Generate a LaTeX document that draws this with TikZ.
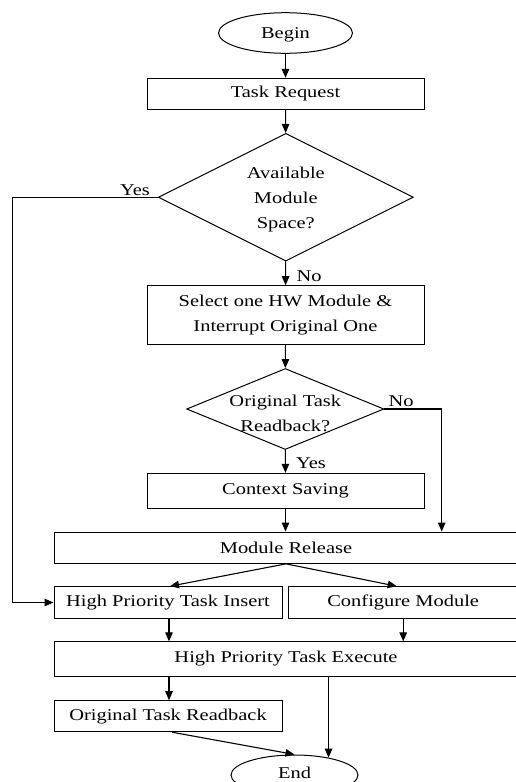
\documentclass[tikz,border=0pt]{standalone}
\usepackage{fontspec}
\setmainfont[FakeStretch=1.24]{Liberation Serif}
\usetikzlibrary{shapes.geometric,arrows.meta}
\begin{document}
\begin{tikzpicture}[x=1pt,y=-1pt,
  font=\fontsize{16.5}{25}\selectfont,
  box/.style={draw, line width=1pt, inner sep=0pt, align=center},
  dia/.style={draw, diamond, line width=1pt, inner sep=0pt},
  oval/.style={draw, ellipse, line width=1pt, inner sep=0pt},
  lbl/.style={inner sep=0pt, align=center},
  arr/.style={line width=1.1pt, -{Triangle[length=9pt,width=7.5pt]}}]
\useasboundingbox (0,0) rectangle (516,782);
% nodes
\node[oval, minimum width=134pt, minimum height=40.6pt] (start) at (285.5,33) {};
\node[lbl] (startt) at (285.5,34.5) {Begin};
\node[box, minimum width=277pt, minimum height=31pt] (req) at (285.5,93.8) {Task Request};
\node[dia, minimum width=255pt, minimum height=127.7pt] (d1) at (285.8,197.2) {};
\node[lbl] (d1t) at (285.8,199.5) {Available\\Module\\Space?};
\node[box, minimum width=277pt, minimum height=58.6pt] (sel) at (285.5,315) {Select one HW Module \&\\Interrupt Original One};
\node[dia, minimum width=197.3pt, minimum height=81pt] (d2) at (285.3,409) {};
\node[lbl] (d2t) at (285.3,413) {Original Task\\Readback?};
\node[box, minimum width=277pt, minimum height=35pt] (ctx) at (285.5,490.8) {Context Saving};
\node[box, minimum width=464pt, minimum height=31.3pt] (rel) at (286,547.7) {Module Release};
\node[box, minimum width=228pt, minimum height=31.6pt] (hpti) at (168,602.5) {High Priority Task Insert};
\node[box, minimum width=228.5pt, minimum height=31.6pt] (cm) at (403.2,602.5) {Configure Module};
\node[box, minimum width=464pt, minimum height=34.3pt] (hpte) at (286,659) {High Priority Task Execute};
\node[box, minimum width=228pt, minimum height=31pt] (otr) at (168,716.2) {Original Task Readback};
\node[oval, minimum width=127pt, minimum height=40pt] (stop) at (294.5,775) {};
\node[lbl] (stopt) at (294.5,772.5) {End};
% labels
\node[lbl, anchor=east] (yes1) at (150,190) {Yes};
\node[lbl] (no1) at (309,276) {No};
\node[lbl] (no2) at (401,401) {No};
\node[lbl] (yes2) at (311,463.3) {Yes};
% helper coordinates
\coordinate (c1) at (12.3,197.2);
\coordinate (c2) at (441.7,409);
\coordinate (a1) at ([xshift=1pt]hpti.south);
\coordinate (a3) at ([xshift=1pt]otr.north);
\coordinate (a4) at ([xshift=4pt]otr.south);
\coordinate (a5) at ([xshift=2pt]hpti.north);
\coordinate (a6) at ([xshift=-6.5pt]cm.north);
% connectors
\draw[arr] (start) -- (req);
\draw[arr] (req) -- (d1);
\draw[arr] (d1) -- (sel);
\draw[arr] (sel) -- (d2);
\draw[arr] (d2) -- (ctx);
\draw[arr] (d2.east) -- (c2) -- (c2 |- rel.north);
\draw[arr] (ctx.south) -- (ctx.south |- rel.north);
\draw[arr] (d1.west) -- (c1) |- (hpti.west);
\draw[arr] (rel.south) -- (a5);
\draw[arr] (rel.south) -- (a6);
\draw[arr] (a1) -- (a1 |- hpte.north);
\draw[arr] (cm.south) -- (cm.south |- hpte.north);
\draw[arr] (a3 |- hpte.south) -- (a3);
\draw[arr] (a4) -- (stop.north);
\draw[arr] (stop.27 |- hpte.south) -- (stop.27);
\end{tikzpicture}
\end{document}
